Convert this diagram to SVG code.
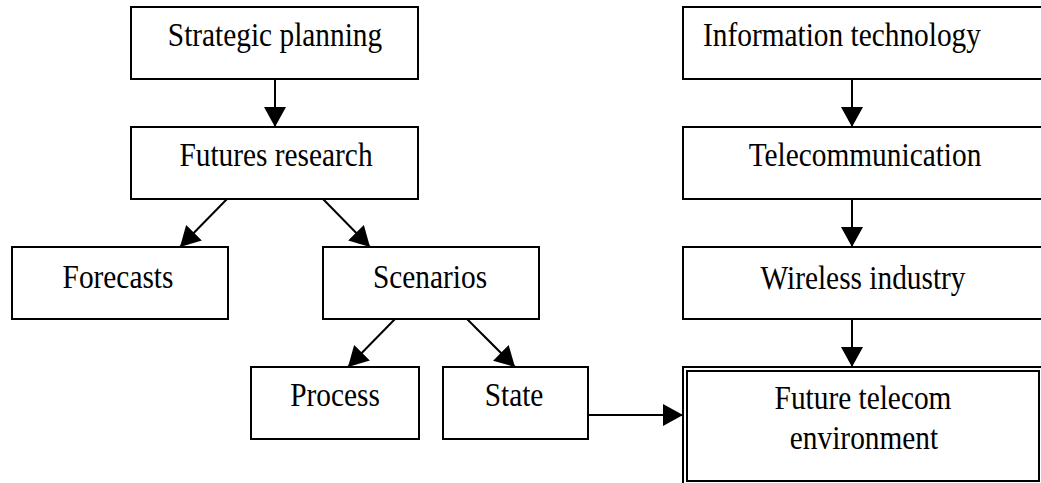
<svg xmlns="http://www.w3.org/2000/svg" width="1041" height="483" viewBox="0 0 1041 483">
  <style>
    .box { fill: #ffffff; stroke: #000000; stroke-width: 2; }
    .lbl { font-family: "Liberation Serif", "Times New Roman", serif; font-size: 33px; fill: #000000; text-anchor: middle; }
    .start { text-anchor: start; }
    .edge { stroke: #000000; stroke-width: 2; fill: none; marker-end: url(#arrow); }
  </style>
  <defs>
    <marker id="arrow" markerUnits="userSpaceOnUse" markerWidth="20" markerHeight="22" refX="20" refY="11" orient="auto">
      <path d="M0,0 L20,11 L0,22 Z" fill="#000000"/>
    </marker>
  </defs>
  <rect width="1041" height="483" fill="#ffffff"/>

  <g id="connectors">
    <line class="edge" x1="275" y1="79" x2="275" y2="127"/>
    <line class="edge" x1="227" y1="199" x2="180" y2="247"/>
    <line class="edge" x1="323" y1="199" x2="370" y2="247"/>
    <line class="edge" x1="395" y1="319" x2="348" y2="367"/>
    <line class="edge" x1="467" y1="319" x2="515" y2="367"/>
    <line class="edge" x1="588" y1="415" x2="683" y2="415"/>
    <line class="edge" x1="852" y1="79" x2="852" y2="127"/>
    <line class="edge" x1="852" y1="199" x2="852" y2="247"/>
    <line class="edge" x1="852" y1="319" x2="852" y2="367"/>
  </g>

  <g id="strategic-planning">
    <rect class="box" x="131" y="7" width="287" height="72"/>
    <text class="lbl" transform="translate(275 46) scale(0.89 1)">Strategic planning</text>
  </g>
  <g id="futures-research">
    <rect class="box" x="131" y="127" width="287" height="72"/>
    <text class="lbl" transform="translate(276 166) scale(0.89 1)">Futures research</text>
  </g>
  <g id="forecasts">
    <rect class="box" x="12" y="247" width="216" height="72"/>
    <text class="lbl" transform="translate(118 288) scale(0.89 1)">Forecasts</text>
  </g>
  <g id="scenarios">
    <rect class="box" x="323" y="247" width="216" height="72"/>
    <text class="lbl" transform="translate(430 288) scale(0.89 1)">Scenarios</text>
  </g>
  <g id="process">
    <rect class="box" x="251" y="367" width="168" height="72"/>
    <text class="lbl" transform="translate(335 406) scale(0.89 1)">Process</text>
  </g>
  <g id="state">
    <rect class="box" x="443" y="367" width="145" height="72"/>
    <text class="lbl" transform="translate(514 406) scale(0.89 1)">State</text>
  </g>
  <g id="information-technology">
    <rect class="box" x="683" y="7" width="362" height="72"/>
    <text class="lbl start" transform="translate(703 46) scale(0.89 1)">Information technology</text>
  </g>
  <g id="telecommunication">
    <rect class="box" x="683" y="127" width="362" height="72"/>
    <text class="lbl" transform="translate(865 166) scale(0.89 1)">Telecommunication</text>
  </g>
  <g id="wireless-industry">
    <rect class="box" x="683" y="247" width="362" height="72"/>
    <text class="lbl" transform="translate(863 289) scale(0.89 1)">Wireless industry</text>
  </g>
  <g id="future-telecom-environment">
    <rect class="box" x="683" y="367" width="362" height="120"/>
    <rect class="box" x="687" y="371" width="352" height="110"/>
    <text class="lbl" transform="translate(863 409) scale(0.89 1)">Future telecom</text>
    <text class="lbl" transform="translate(864 449) scale(0.89 1)">environment</text>
  </g>
</svg>
